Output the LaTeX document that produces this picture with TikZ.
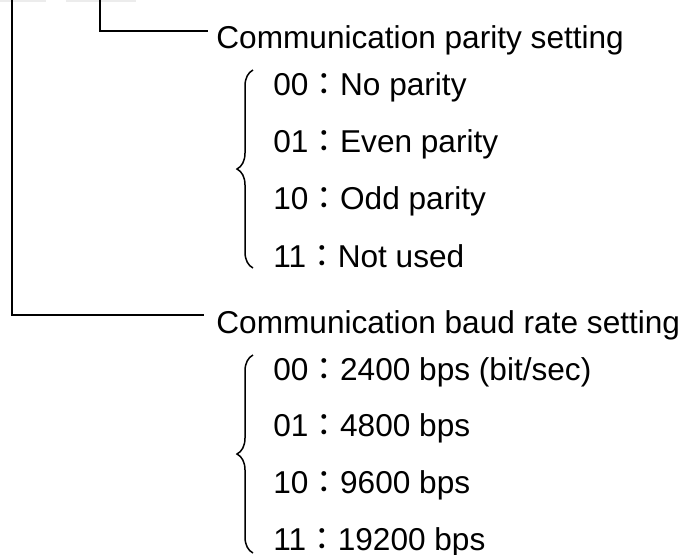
\documentclass[tikz,border=0pt]{standalone}
\usepackage{fontspec}
\setmainfont{Liberation Sans}
\newfontfamily\cjk{Noto Sans CJK TC}
\usetikzlibrary{decorations.pathreplacing, positioning}
\newcommand{\fwcolon}{{\cjk ：}}
\tikzset{
  header/.style  = {anchor=base west, inner sep=0pt,
                    font=\fontsize{15.8}{18}\selectfont},
  item/.style    = {anchor=base west, inner sep=0pt,
                    font=\fontsize{15.8}{18}\selectfont},
  link/.style    = {line width=1pt},
  setbrace/.style = {decorate, decoration={brace, amplitude=8pt},
                     line width=0.75pt},
}
\begin{document}
\begin{tikzpicture}[x=0.5pt, y=0.5pt]
  \useasboundingbox (0,0) rectangle (688,-554);
  % table edge above
  \fill[gray!15] (0,0) rectangle (46,-1.5);
  \fill[gray!15] (66,0) rectangle (136,-1.5);
  \coordinate (baudtop)   at (12,0);
  \coordinate (paritytop) at (100,0);
  % parity
  \node[header] (parity) at (216,-48.5) {Communication parity setting};
  \node[item] (p00) at (273,-95)  {00\fwcolon No parity};
  \node[item] (p01) at (273,-152) {01\fwcolon Even parity};
  \node[item] (p10) at (273,-209) {10\fwcolon Odd parity};
  \node[item] (p11) at (273,-267) {11\fwcolon Not used};
  \coordinate (pbtop) at (253,-70);
  \coordinate (pbbot) at (253,-268);
  \draw[setbrace] (pbbot) -- (pbtop);
  % baud rate
  \node[header] (baud) at (216,-333) {Communication baud rate setting};
  \node[item] (b00) at (273,-380) {00\fwcolon 2400 bps (bit/sec)};
  \node[item] (b01) at (273,-436) {01\fwcolon 4800 bps};
  \node[item] (b10) at (273,-493) {10\fwcolon 9600 bps};
  \node[item] (b11) at (273,-550) {11\fwcolon 19200 bps};
  \coordinate (bbtop) at (253,-355);
  \coordinate (bbbot) at (253,-553);
  \draw[setbrace] (bbbot) -- (bbtop);
  % bit lines
  \draw[link] (paritytop) |- ([shift={(-8,17.5)}]parity.base west);
  \draw[link] (baudtop) |- ([shift={(-12,18)}]baud.base west);
\end{tikzpicture}
\end{document}
